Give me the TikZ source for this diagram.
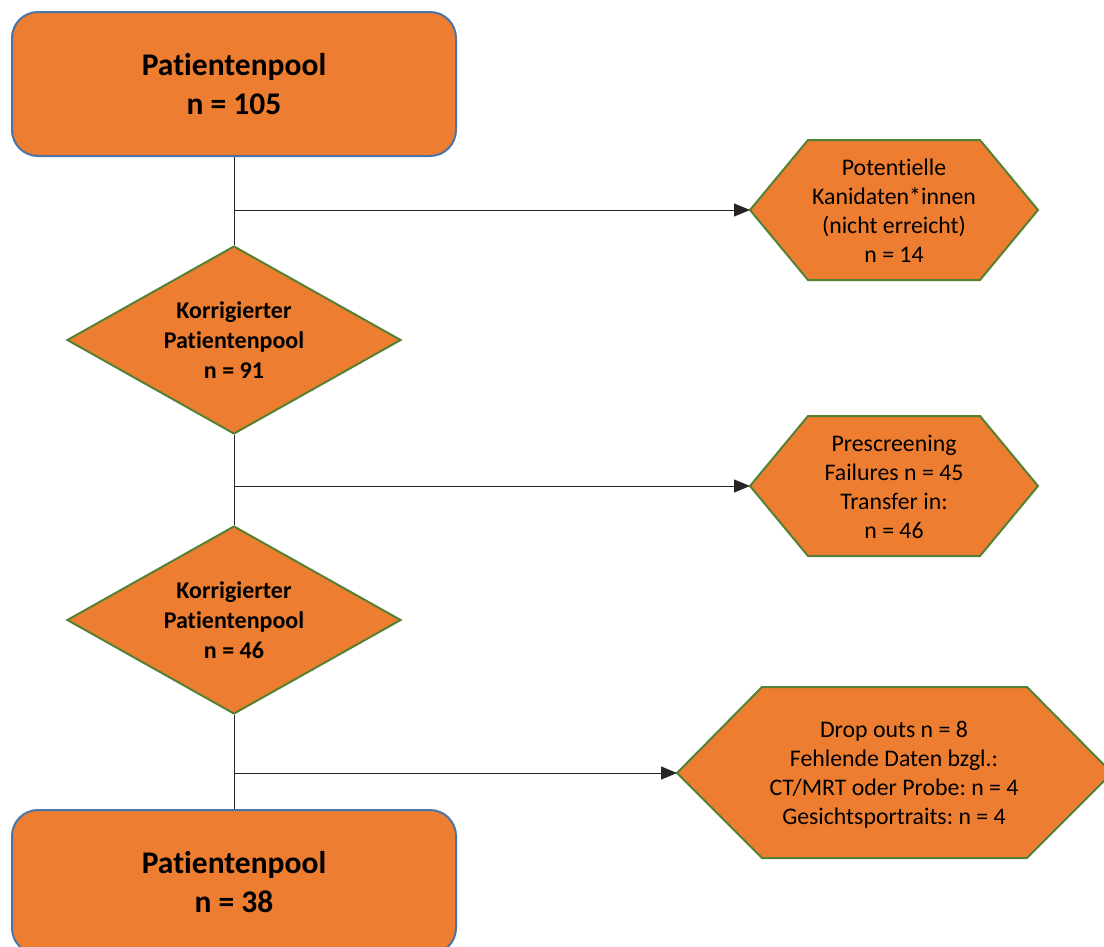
\documentclass[tikz,border=0pt]{standalone}
\usepackage{fontspec}
\setmainfont{Carlito}[Ligatures=NoCommon]
\usetikzlibrary{shapes.geometric,arrows.meta}
\definecolor{orangefill}{HTML}{ED7D31}
\definecolor{boxblue}{HTML}{4A74A8}
\definecolor{hexgreen}{HTML}{548235}
\frenchspacing
\begin{document}
\begin{tikzpicture}[x=1pt,y=-1pt,
  poolbox/.style={draw=boxblue, line width=2pt, fill=orangefill, rounded corners=26pt,
    minimum width=444pt, minimum height=144pt, align=center, inner sep=0pt,
    font=\bfseries\fontsize{31.5}{39}\selectfont},
  decision/.style={diamond, draw=hexgreen, line width=2pt, fill=orangefill,
    minimum width=334pt, minimum height=188pt, inner sep=0pt, aspect=1.78, align=center,
    font=\bfseries\fontsize{24}{30}\selectfont},
  hexline/.style={draw=hexgreen, line width=2pt, fill=orangefill, line join=miter},
  hextext/.style={align=center, inner sep=0pt, font=\fontsize{23.8}{29}\selectfont},
  conn/.style={draw=black!85, line width=1pt},
  arr/.style={conn, -{Triangle[length=16pt,width=13pt]}}
]
\useasboundingbox (0,0) rectangle (1104,946);

% main column
\node[poolbox] (top) at (234,84) {Patientenpool\\n = 105};
\node[decision] (d1) at (234,340) {Korrigierter\\Patientenpool\\n = 91};
\node[decision] (d2) at (234,620) {Korrigierter\\Patientenpool\\n = 46};
\node[poolbox] (bot) at (234,882) {Patientenpool\\n = 38};

% hexagons
\draw[hexline] (750,210) coordinate (h1w) -- (808,140) -- (980,140) -- (1038,210) -- (980,280) -- (808,280) -- cycle;
\node[hextext] (h1) at (894,211) {Potentielle\\Kanidaten*innen\\(nicht erreicht)\\n = 14};

\draw[hexline] (750,486) coordinate (h2w) -- (808,416) -- (980,416) -- (1038,486) -- (980,556) -- (808,556) -- cycle;
\node[hextext] (h2) at (894,487) {Prescreening\\Failures n = 45\\Transfer in:\\n = 46};

\draw[hexline] (677,773) coordinate (h3w) -- (762,687) -- (1027,687) -- (1112,773) -- (1027,858) -- (762,858) -- cycle;
\node[hextext] (h3) at (894,775) {Drop outs n = 8\\Fehlende Daten bzgl.:\\CT/MRT oder Probe: n = 4\\Gesichtsportraits: n = 4};

% junctions
\coordinate (j1) at (234,210);
\coordinate (j2) at (234,486);
\coordinate (j3) at (234,773);

% connectors
\draw[conn] (top.south) -- (d1.north);
\draw[conn] (d1.south) -- (d2.north);
\draw[conn] (d2.south) -- (bot.north);
\draw[arr] (j1) -- (h1w);
\draw[arr] (j2) -- (h2w);
\draw[arr] (j3) -- (h3w);
\end{tikzpicture}
\end{document}
